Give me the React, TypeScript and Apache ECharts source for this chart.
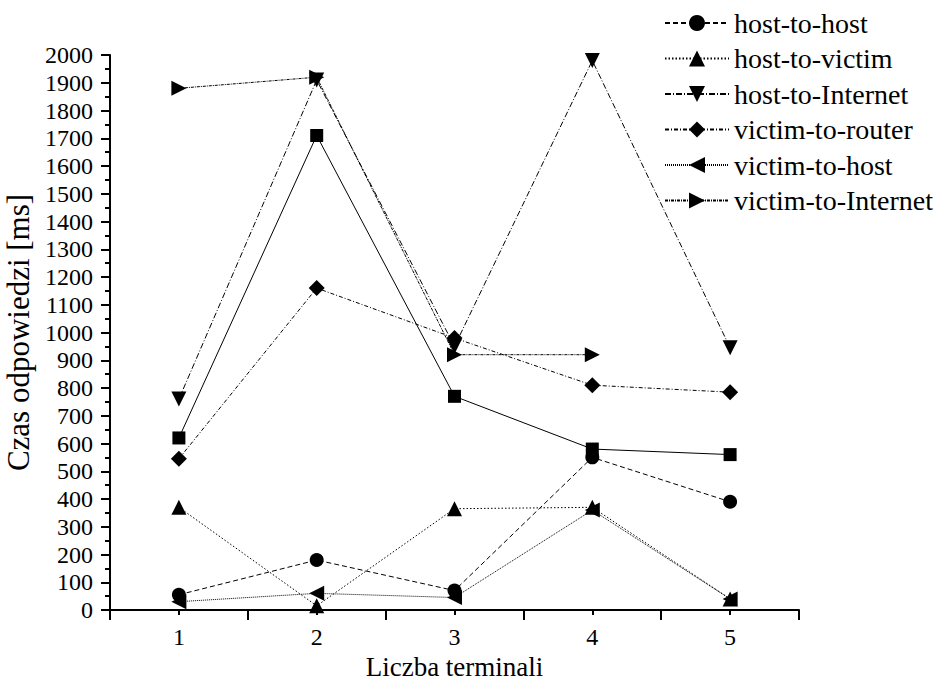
import React, { useEffect, useRef } from "react";
import * as echarts from "echarts";

const terminals = [1, 2, 3, 4, 5];
const legendNames = [
  "host-to-host",
  "host-to-victim",
  "host-to-Internet",
  "victim-to-router",
  "victim-to-host",
  "victim-to-Internet",
];
const squareValues = [620, 1710, 770, 580, 560];
const hostToHost = [55, 180, 70, 550, 390];
const hostToVictim = [370, 15, 365, 370, 40];
const hostToInternet = [760, 1910, 950, 1980, 945];
const victimToRouter = [545, 1160, 980, 810, 785];
const victimToHost = [30, 60, 45, 360, 40];
const victimToInternet = [1880, 1920, 920, 920];

const FONT = "'Liberation Serif', 'Times New Roman', 'DejaVu Serif', serif";
const TRI_DOWN = "path://M0,0 L10,0 L5,9 Z";
const TRI_LEFT = "path://M9,0 L9,10 L0,5 Z";
const TRI_RIGHT = "path://M0,0 L0,10 L9,5 Z";

function pts(vals: number[]) {
  return vals.map((v, i) => [terminals[i], v]);
}

function isInt(v: any) {
  const n = Number(v);
  return Math.abs(n - Math.round(n)) < 1e-6;
}

function mk(name: string, vals: number[], symbol: string, size: number, dash: any) {
  return {
    name,
    type: "line",
    xAxisIndex: 0,
    yAxisIndex: 0,
    data: pts(vals),
    symbol,
    symbolSize: size,
    showAllSymbol: true,
    itemStyle: { color: "#000" },
    lineStyle: { color: "#000", width: 1, type: dash },
    emphasis: { disabled: true },
    z: 3,
  };
}

export default function App() {
  const ref = useRef<HTMLDivElement>(null);
  useEffect(() => {
    if (!ref.current) return;
    const chart = echarts.init(ref.current, null, { renderer: "svg" });
    const option: any = {
      animation: false,
      backgroundColor: "#fff",
      textStyle: { fontFamily: FONT },
      grid: {
        left: 110,
        right: 145,
        top: 55,
        bottom: 71,
        containLabel: false,
        outerBoundsMode: "none",
      },
      legend: {
        data: legendNames,
        orient: "vertical",
        left: 659,
        top: 4,
        itemWidth: 64,
        itemHeight: 20,
        itemGap: 7.5,
        textStyle: { fontFamily: FONT, fontSize: 28, color: "#000", lineHeight: 28 },
        inactiveColor: "#000",
        selectedMode: false,
      },
      xAxis: [
        {
          type: "value",
          min: 0.5,
          max: 5.5,
          interval: 0.5,
          position: "bottom",
          name: "Liczba terminali",
          nameLocation: "middle",
          nameGap: 33,
          nameTextStyle: { fontFamily: FONT, fontSize: 27, color: "#000", lineHeight: 27 },
          axisLine: { show: true, onZero: false, lineStyle: { color: "#000", width: 2 } },
          axisTick: { show: true, length: 5, lineStyle: { color: "#000", width: 2 } },
          axisLabel: {
            show: true,
            fontFamily: FONT,
            fontSize: 24,
            color: "#000",
            margin: 15,
            formatter: (v: any) => (isInt(v) ? String(Math.round(Number(v))) : ""),
          },
          splitLine: { show: false },
        },
        {
          type: "value",
          min: 0.5,
          max: 5.5,
          interval: 1,
          position: "bottom",
          offset: 0,
          axisLine: { show: false, onZero: false },
          axisTick: { show: true, length: 10, lineStyle: { color: "#000", width: 2 } },
          axisLabel: { show: false },
          splitLine: { show: false },
        },
      ],
      yAxis: {
        type: "value",
        min: 0,
        max: 2000,
        interval: 100,
        name: "Czas odpowiedzi [ms]",
        nameLocation: "middle",
        nameGap: 74,
        nameTextStyle: { fontFamily: FONT, fontSize: 31, color: "#000" },
        axisLine: { show: true, lineStyle: { color: "#000", width: 2 } },
        axisTick: { show: true, length: 9, lineStyle: { color: "#000", width: 2 } },
        minorTick: { show: true, splitNumber: 2, length: 5, lineStyle: { color: "#000", width: 2 } },
        axisLabel: {
          fontFamily: FONT,
          fontSize: 24,
          color: "#000",
          margin: 17,
          formatter: (v: any) => String(v),
        },
        splitLine: { show: false },
        minorSplitLine: { show: false },
      },
      series: [
        mk("squares", squareValues, "rect", 13, "solid"),
        mk("host-to-host", hostToHost, "circle", 14, [5, 3]),
        mk("host-to-victim", hostToVictim, "triangle", 15, [1.5, 2]),
        mk("host-to-Internet", hostToInternet, TRI_DOWN, 15, [6, 2, 1, 2]),
        mk("victim-to-router", victimToRouter, "diamond", 16, [4, 2, 1, 2]),
        mk("victim-to-host", victimToHost, TRI_LEFT, 15, [1, 1]),
        mk("victim-to-Internet", victimToInternet, TRI_RIGHT, 15, [3, 1, 1, 1]),
      ],
    };
    chart.setOption(option);
    return () => chart.dispose();
  }, []);
  return (
    <div
      ref={ref}
      style={{ position: "absolute", left: 0, top: 0, width: 944, height: 681 }}
    />
  );
}
